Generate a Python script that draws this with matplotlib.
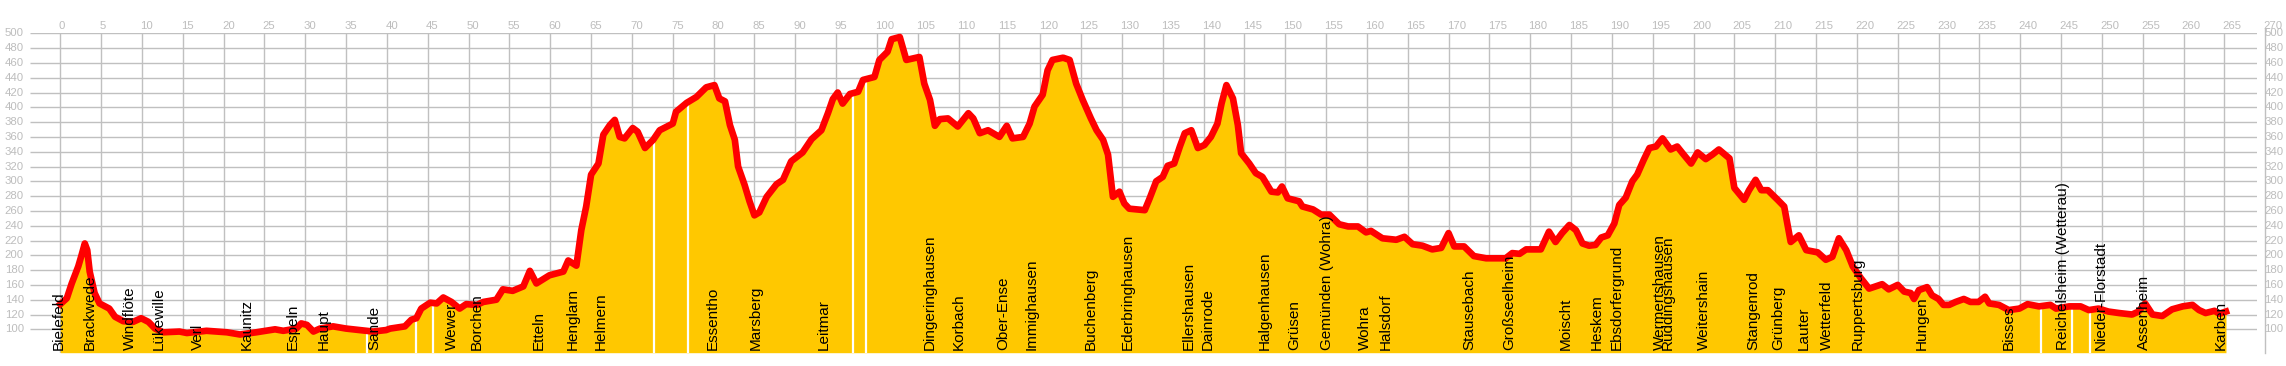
import numpy as np
import matplotlib
matplotlib.use("Agg")
import matplotlib.pyplot as plt

# ---------------- data ----------------
km = [0.0, 0.8, 1.4, 2.2, 2.6, 3.0, 3.3, 3.6, 4.2, 4.8, 6.0, 6.7, 7.7, 8.9, 9.9, 10.8, 11.6, 12.6,
      14.6, 15.5, 17.9, 20.4, 22.0, 24.0, 26.3, 27.3, 28.9, 29.5, 30.2, 31.0, 31.8, 33.4, 35.0,
      36.7, 38.3, 39.9, 40.4, 42.2, 43.0, 43.6, 44.2, 45.3, 46.1, 46.9, 47.9, 48.9, 49.7, 51.0,
      51.8, 53.4, 54.2, 55.4, 56.7, 57.5, 58.3, 59.9, 61.6, 62.2, 63.2, 63.8, 64.4, 65.0, 65.9,
      66.5, 67.3, 67.9, 68.5, 69.1, 70.1, 70.7, 71.6, 72.6, 73.4, 75.0, 75.4, 76.7, 77.9, 79.1,
      80.1, 80.7, 81.4, 82.0, 82.6, 83.0, 83.8, 84.4, 85.0, 85.6, 86.5, 87.7, 88.5, 89.5, 90.9,
      92.0, 93.2, 94.0, 94.6, 95.2, 95.8, 96.7, 97.7, 98.3, 99.7, 100.3, 101.3, 101.8, 102.8,
      103.6, 104.4, 105.2, 105.8, 106.5, 107.1, 107.7, 108.7, 109.9, 111.2, 111.8, 112.6, 113.6,
      115.0, 115.9, 116.6, 117.9, 118.7, 119.3, 120.3, 120.9, 121.5, 122.8, 123.6, 124.4, 125.2,
      126.2, 126.9, 127.7, 128.3, 128.9, 129.7, 130.3, 130.9, 132.8, 133.4, 134.2, 135.0, 135.6,
      136.4, 137.1, 137.7, 138.5, 139.3, 140.1, 140.9, 141.7, 142.2, 142.8, 143.6, 144.2, 144.6,
      145.6, 146.4, 147.2, 148.3, 149.1, 149.6, 150.3, 151.7, 152.1, 153.4, 154.4, 155.4, 156.6,
      157.7, 158.9, 159.9, 160.5, 161.9, 163.6, 164.6, 165.6, 166.8, 168.0, 169.1, 170.0, 170.7,
      171.9, 173.1, 174.6, 177.0, 177.8, 178.7, 179.5, 181.3, 182.3, 183.1, 183.9, 184.8, 185.6,
      186.4, 187.2, 188.0, 188.7, 189.5, 190.3, 190.9, 191.7, 192.5, 193.1, 193.9, 194.6, 195.4,
      196.2, 197.2, 198.0, 198.8, 199.7, 200.5, 201.5, 202.3, 203.1, 204.4, 205.0, 206.2, 206.8,
      207.6, 208.3, 209.1, 210.3, 211.1, 211.9, 212.9, 213.8, 215.2, 216.2, 217.0, 217.8, 218.7,
      219.5, 220.5, 221.5, 223.1, 223.9, 225.0, 225.8, 226.6, 227.0, 227.6, 228.6, 229.2, 230.0,
      230.6, 231.3, 232.1, 233.1, 233.9, 234.9, 235.7, 236.2, 237.4, 238.6, 239.9, 240.9, 242.3,
      243.7, 244.4, 246.0, 247.4, 248.4, 249.6, 250.8, 252.1, 253.7, 254.5, 255.3, 256.2, 257.4,
      258.6, 259.9, 261.1, 261.9, 262.7, 263.8, 264.4, 265.2]
elev = [134, 142, 162, 185, 200, 216, 207, 178, 149, 135, 128, 117, 111, 110, 115, 110, 101, 96,
        97, 95, 98, 96, 93, 96, 100, 98, 101, 108, 106, 97, 101, 104, 101,
        99, 97, 99, 101, 104, 113, 115, 128, 136, 135, 143, 137, 128, 134, 133,
        137, 140, 154, 152, 158, 179, 162, 173, 178, 193, 186, 234, 266, 309, 324,
        363, 376, 383, 360, 358, 372, 367, 345, 356, 369, 378, 394, 406, 414, 427,
        430, 412, 408, 376, 356, 320, 295, 273, 254, 258, 279, 296, 302, 327, 339,
        357, 369, 392, 411, 420, 405, 418, 421, 437, 441, 464, 475, 492, 495,
        464, 466, 468, 432, 410, 375, 384, 385, 374, 392, 385, 365, 369,
        360, 375, 358, 360, 378, 401, 417, 450, 464, 467, 464, 432, 410,
        385, 369, 356, 336, 279, 286, 270, 263, 261, 277, 300, 306, 321,
        324, 347, 365, 369, 345, 349, 360, 378, 405, 430, 412, 376, 338,
        324, 311, 306, 286, 285, 293, 277, 273, 266, 262, 255, 255, 242,
        239, 239, 231, 233, 223, 221, 225, 215, 213, 208, 210, 230, 212,
        212, 199, 196, 196, 203, 202, 208, 208, 232, 218, 230, 241, 234,
        216, 213, 214, 224, 227, 243, 268, 278, 300, 309, 329, 345, 347,
        358, 343, 347, 336, 324, 339, 330, 336, 343, 331, 291, 275, 288,
        302, 288, 288, 275, 266, 218, 227, 207, 204, 194, 198, 223, 207,
        185, 169, 155, 161, 154, 160, 151, 149, 141, 153, 157, 146, 141,
        133, 133, 137, 141, 137, 137, 144, 135, 133, 126, 128, 134, 131,
        133, 128, 131, 131, 126, 128, 124, 122, 120, 124, 135, 120, 118,
        127, 131, 133, 126, 122, 125, 121, 124]

towns = ["Bielefeld", "Brackwede", "Windflöte", "Lükewille", "Verl", "Kaunitz", "Espeln", "Haupt",
         "Sande", "Wewer", "Borchen", "Etteln", "Henglarn", "Helmern", "Essentho", "Marsberg",
         "Leitmar", "Dingeringhausen", "Korbach", "Ober-Ense", "Immighausen", "Buchenberg",
         "Ederbringhausen", "Ellershausen", "Dainrode", "Halgenhausen", "Grüsen",
         "Gemünden (Wohra)", "Wohra", "Halsdorf", "Stausebach", "Großseelheim", "Moischt",
         "Heskem", "Ebsdorfergrund", "Wermertshausen", "Rüddingshausen", "Weitershain",
         "Stangenrod", "Grünberg", "Lauter", "Wetterfeld", "Ruppertsburg", "Hungen", "Bisses",
         "Reichelsheim (Wetterau)", "Nieder-Florstadt", "Assenheim", "Karben"]
town_km = [-0.2, 3.6, 8.5, 12.1, 16.8, 22.8, 28.5, 32.3, 38.5, 48.0, 51.0, 58.6, 62.8, 66.2,
           79.9, 85.2, 93.5, 106.5, 110.0, 115.5, 118.9, 126.2, 130.7, 138.2, 140.5, 147.5,
           151.1, 155.1, 159.8, 162.3, 172.5, 177.4, 184.3, 188.1, 190.6, 195.9, 196.9, 201.3,
           207.3, 210.4, 213.5, 216.3, 220.1, 228.0, 238.6, 245.2, 249.9, 255.2, 264.5]

gap_km = [37.5, 43.5, 45.7, 72.7, 76.9, 97.1, 98.7, 242.5, 246.3, 248.6]

x_ticks = list(range(0, 271, 5))
y_ticks = list(range(100, 501, 20))

# ---------------- figure ----------------
W, H = 2286, 366
fig = plt.figure(figsize=(W / 100, H / 100), dpi=100)
L, R, T, B = 30, 2257, 33.3, 352.7
ax = fig.add_axes([L / W, 1 - B / H, (R - L) / W, (B - T) / H])
x0, x1 = -3.71, 269.0
y0, y1 = 68.4, 500
ax.set_xlim(x0, x1)
ax.set_ylim(y0, y1)
ax.axis("off")

grid_c = "#c0c0c0"
for y in y_ticks:
    ax.plot([x0, x1], [y, y], color=grid_c, lw=1.0, zorder=1, solid_capstyle="butt")
for x in x_ticks:
    if x <= 265:
        ax.plot([x, x], [y0, y1], color=grid_c, lw=1.0, zorder=1, solid_capstyle="butt")
# right border line at km 270
ax.plot([270, 270], [y0, y1 + 6], color=grid_c, lw=1.0, zorder=1, clip_on=False)

km_a = np.array(km, dtype=float)
el_a = np.array(elev, dtype=float)
ax.fill_between(km_a, el_a, y0, color="#ffc800", lw=0, zorder=2)
gap_top = np.interp(gap_km, km_a, el_a) - 4
ax.vlines(gap_km, y0, gap_top, colors="white", lw=1.6, zorder=2.5)
ax.plot(km_a, el_a, color="#ff0000", lw=4.8, zorder=3, solid_joinstyle="round")

tick_font = dict(family="Liberation Sans", fontsize=8.2, color="#bdbdbd")
for x in x_ticks:
    ax.text(x - 0.2, 510.3, str(x), ha="left", va="center", clip_on=False, **tick_font)
for y in y_ticks:
    ax.text(-4.45, y, str(y), ha="right", va="center", clip_on=False, **tick_font)
    ax.text(269.9, y, str(y), ha="left", va="center", clip_on=False, **tick_font)

for name, k in zip(towns, town_km):
    ax.text(k, 72, name, rotation=90, ha="center", va="bottom", fontsize=11,
            family="Liberation Sans", color="black", zorder=4)

fig.savefig("out.png", dpi=100, facecolor="white")
